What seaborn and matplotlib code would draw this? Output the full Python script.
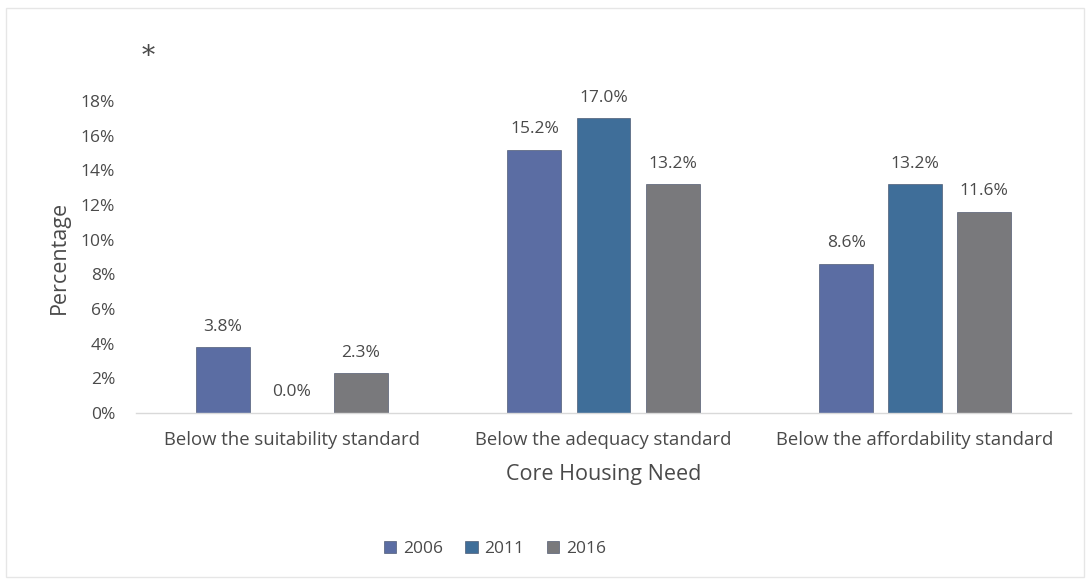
import matplotlib
matplotlib.use("Agg")
import matplotlib.pyplot as plt
import seaborn as sns
import pandas as pd
from matplotlib.patches import Rectangle

categories = ["Below the suitability standard",
              "Below the adequacy standard",
              "Below the affordability standard"]
years = ["2006", "2011", "2016"]
values_2006 = [3.8, 15.2, 8.6]
values_2011 = [0.0, 17.0, 13.2]
values_2016 = [2.3, 13.2, 11.6]
y_ticks = [0, 2, 4, 6, 8, 10, 12, 14, 16, 18]

colors = ["#5b6da3", "#3f6e99", "#79797c"]
text_color = "#4a4a4a"

rows = []
for yr, vals in zip(years, [values_2006, values_2011, values_2016]):
    for cat, v in zip(categories, vals):
        rows.append({"Category": cat, "Year": yr, "Value": v})
df = pd.DataFrame(rows)

sns.set_theme(style="white")
plt.rcParams["font.family"] = ["Open Sans", "DejaVu Sans"]

fig = plt.figure(figsize=(10.88, 5.83), dpi=100)
ax = fig.add_axes([136 / 1088, 1 - 413 / 583, 935 / 1088, 312 / 583])

sns.barplot(data=df, x="Category", y="Value", hue="Year", order=categories,
            hue_order=years, palette=colors, saturation=1, width=0.665, gap=0.22,
            edgecolor="#3a4660", linewidth=0.4, ax=ax, legend=True)

ax.set_ylim(0, 18)
ax.set_xlim(-0.5, 2.5)
ax.set_yticks(y_ticks)
ax.set_yticklabels([f"{t}%" for t in y_ticks], fontsize=12.5, color=text_color)
ax.tick_params(axis="x", labelsize=13.3, colors=text_color, pad=13, length=0)
ax.tick_params(axis="y", length=0, pad=15)
ax.set_xlabel("Core Housing Need", fontsize=15.5, color=text_color, labelpad=11)
ax.set_ylabel("Percentage", fontsize=15.5, color=text_color, labelpad=8)

for side in ["top", "right", "left"]:
    ax.spines[side].set_visible(False)
ax.spines["bottom"].set_color("#d9d9d9")
ax.spines["bottom"].set_linewidth(1.0)

for container in ax.containers:
    ax.bar_label(container, labels=[f"{b.get_height():.1f}%" for b in container],
                 padding=9, fontsize=12.5, color=text_color)

handles, labels = ax.get_legend_handles_labels()
ax.get_legend().remove()
fig.legend(handles, labels, loc="center", bbox_to_anchor=(0.455, 1 - 549 / 583),
           ncol=3, frameon=False, fontsize=12.5, handlelength=0.7, handleheight=0.7,
           handletextpad=0.4, columnspacing=1.3, labelcolor=text_color)

fig.text(148 / 1088, 1 - 56 / 583, "*", fontsize=19, color=text_color,
         ha="center", va="center", family="DejaVu Serif")

fig.patches.append(Rectangle((6 / 1088, 0.01), 1078 / 1088, 1 - 8 / 583 - 0.01,
                             transform=fig.transFigure, fill=False,
                             edgecolor="#e6e6e6", linewidth=1.0))

fig.savefig("out.png", dpi=100, facecolor="white")
